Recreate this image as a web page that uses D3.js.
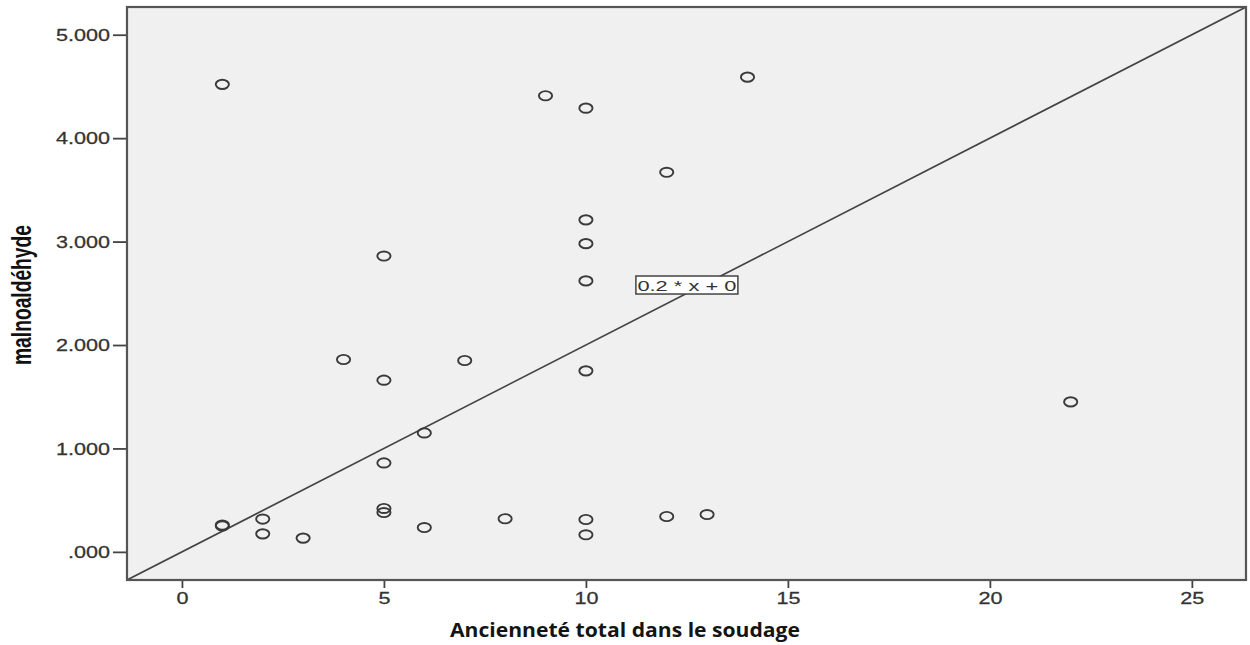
<!DOCTYPE html>
<html>
<head>
<meta charset="utf-8">
<script src="https://cdn.jsdelivr.net/npm/d3@7"></script>
<style>
  html, body { margin: 0; padding: 0; background: #ffffff; }
  svg { display: block; }
</style>
</head>
<body>
<svg id="chart" width="1250" height="645"></svg>
<script>
// Seniority in welding (years) vs. malondialdehyde level
const anciennete = [1, 9, 10, 14, 12, 10, 10, 5, 10, 4, 7, 10, 5, 22, 6, 5,
                    1, 1, 2, 2, 3, 5, 5, 6, 8, 10, 10, 12, 13];
const malnoaldehyde = [4.52, 4.41, 4.29, 4.59, 3.67, 3.21, 2.98, 2.86, 2.62, 1.86, 1.85, 1.75, 1.66, 1.45, 1.15, 0.86,
                       0.26, 0.25, 0.317, 0.174, 0.133, 0.42, 0.38, 0.235, 0.32, 0.313, 0.165, 0.342, 0.361];

const xTicks = [0, 5, 10, 15, 20, 25];
const xTickLabels = ["0", "5", "10", "15", "20", "25"];
const yTicks = [0, 1, 2, 3, 4, 5];
const yTickLabels = [".000", "1.000", "2.000", "3.000", "4.000", "5.000"];

// Reference line y = slope * x + intercept
const slope = 0.2;
const intercept = 0;
const lineLabel = "0.2 * x + 0";
const lineLabelAt = [12.5, 2.58];

const xTitle = "Ancienneté total dans le soudage";
const yTitle = "malnoaldéhyde";

const svg = d3.select("#chart");
const plot = { left: 127, top: 7, right: 1246, bottom: 580 };

const x = d3.scaleLinear().domain([-1.36, 26.34]).range([plot.left, plot.right]);
const y = d3.scaleLinear().domain([-0.272, 5.268]).range([plot.bottom, plot.top]);

// plot background
svg.append("rect")
  .attr("x", plot.left).attr("y", plot.top)
  .attr("width", plot.right - plot.left).attr("height", plot.bottom - plot.top)
  .attr("fill", "#f0f0f0");

svg.append("clipPath").attr("id", "plotclip")
  .append("rect")
  .attr("x", plot.left).attr("y", plot.top)
  .attr("width", plot.right - plot.left).attr("height", plot.bottom - plot.top);

// fit line across the whole x domain
const [x0, x1] = x.domain();
svg.append("line")
  .attr("clip-path", "url(#plotclip)")
  .attr("x1", x(x0)).attr("y1", y(slope * x0 + intercept))
  .attr("x2", x(x1)).attr("y2", y(slope * x1 + intercept))
  .attr("stroke", "#444").attr("stroke-width", 1.7);

// axes
const tickFont = "'Liberation Sans', Arial, sans-serif";

const xAxis = d3.axisBottom(x).tickValues(xTicks).tickSize(8).tickSizeOuter(0)
  .tickFormat((d, i) => xTickLabels[i]);
const gx = svg.append("g").attr("transform", `translate(0,${plot.bottom})`).call(xAxis);
gx.select(".domain").remove();
gx.selectAll(".tick line").attr("stroke", "#444").attr("stroke-width", 1.8);
gx.selectAll(".tick text")
  .attr("font-family", tickFont).attr("font-size", 16).attr("fill", "#333")
  .attr("stroke", "#333").attr("stroke-width", 0.25)
  .attr("dy", null).attr("y", 24).attr("x", 0)
  .attr("transform", "scale(1.35,1)");

const yAxis = d3.axisLeft(y).tickValues(yTicks).tickSize(14).tickSizeOuter(0)
  .tickFormat((d, i) => yTickLabels[i]);
const gy = svg.append("g").attr("transform", `translate(${plot.left},0)`).call(yAxis);
gy.select(".domain").remove();
gy.selectAll(".tick line").attr("stroke", "#444").attr("stroke-width", 1.8);
gy.selectAll(".tick text")
  .attr("font-family", tickFont).attr("font-size", 16).attr("fill", "#333")
  .attr("stroke", "#333").attr("stroke-width", 0.25)
  .attr("x", -17 / 1.35).attr("dy", "0.35em")
  .attr("transform", "scale(1.35,1)");

// frame
svg.append("rect")
  .attr("x", plot.left).attr("y", plot.top)
  .attr("width", plot.right - plot.left).attr("height", plot.bottom - plot.top)
  .attr("fill", "none").attr("stroke", "#555").attr("stroke-width", 2.2);

// points
svg.append("g").selectAll("ellipse")
  .data(anciennete.map((v, i) => [v, malnoaldehyde[i]]))
  .join("ellipse")
  .attr("cx", d => x(d[0])).attr("cy", d => y(d[1]))
  .attr("rx", 6.6).attr("ry", 4.6)
  .attr("fill", "none").attr("stroke", "#3a3a3a").attr("stroke-width", 1.9);

// fit line label
const lx = x(lineLabelAt[0]), ly = y(lineLabelAt[1]);
svg.append("rect")
  .attr("x", lx - 51).attr("y", ly - 9).attr("width", 102).attr("height", 18)
  .attr("fill", "#ffffff").attr("stroke", "#444").attr("stroke-width", 1.5);
svg.append("text")
  .attr("x", lx).attr("y", ly + 5.5)
  .attr("text-anchor", "middle")
  .attr("font-family", tickFont).attr("font-size", 15).attr("fill", "#333")
  .attr("textLength", 99).attr("lengthAdjust", "spacingAndGlyphs")
  .text(lineLabel);

// axis titles
svg.append("text")
  .attr("x", 625).attr("y", 637)
  .attr("text-anchor", "middle")
  .attr("font-family", "'Open Sans', 'Noto Sans', sans-serif")
  .attr("font-weight", 700).attr("font-size", 19).attr("fill", "#141414")
  .attr("textLength", 350).attr("lengthAdjust", "spacingAndGlyphs")
  .text(xTitle);

svg.append("text")
  .attr("transform", "translate(21,295) rotate(-90) scale(1,1.6)")
  .attr("text-anchor", "middle")
  .attr("font-family", "'Liberation Sans Narrow', 'Liberation Sans', Arial, sans-serif")
  .attr("font-weight", 700).attr("font-size", 17).attr("fill", "#111")
  .attr("textLength", 140).attr("lengthAdjust", "spacingAndGlyphs")
  .attr("dy", "0.35em")
  .text(yTitle);
</script>
</body>
</html>
